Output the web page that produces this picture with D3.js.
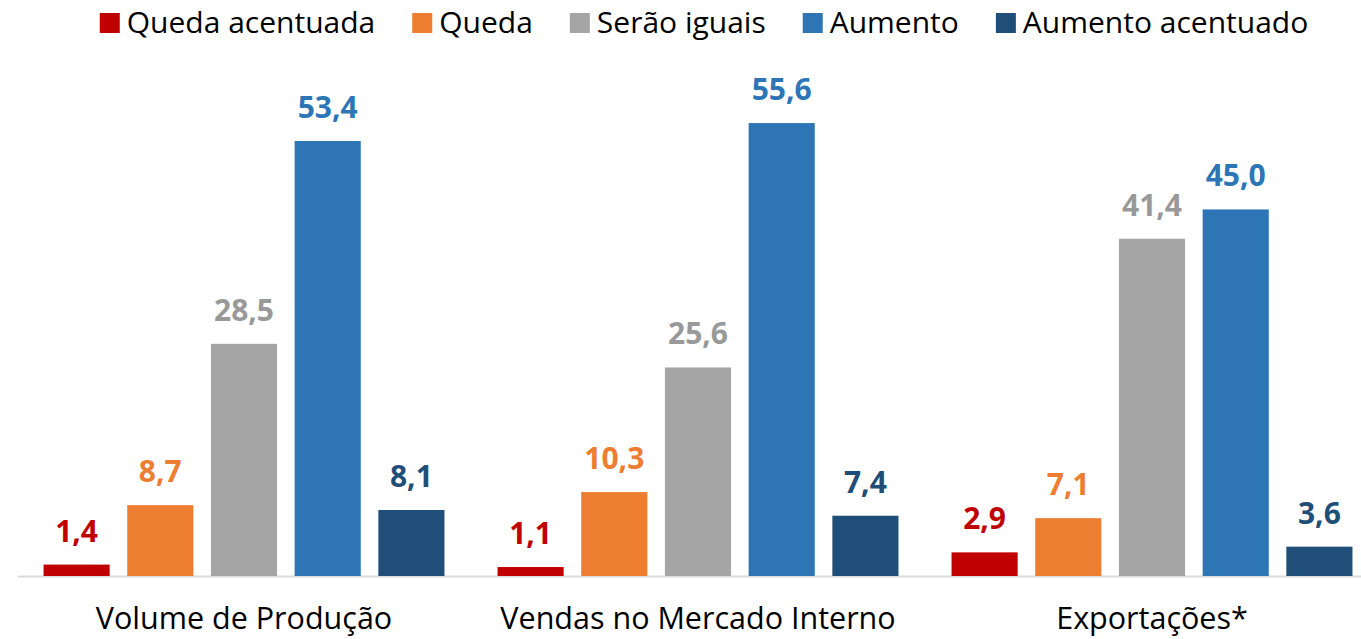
<!DOCTYPE html>
<html>
<head>
<meta charset="utf-8">
<script src="https://cdn.jsdelivr.net/npm/d3@7/dist/d3.min.js"></script>
<style>
  body { margin: 0; background: #fff; }
  svg { display: block; font-family: "Open Sans", "Noto Sans", sans-serif; }
</style>
</head>
<body>
<svg id="chart" width="1361" height="639"></svg>
<script>
var categories = ["Volume de Produção", "Vendas no Mercado Interno", "Exportações*"]
var series = ["Queda acentuada", "Queda", "Serão iguais", "Aumento", "Aumento acentuado"]
var colors = ["#c00000", "#ed7d31", "#a5a5a5", "#2e75b6", "#1f4e79"]
var label_colors = ["#c00000", "#ed7d31", "#999999", "#2e75b6", "#1f4e79"]
// values[category][series]
var values = [
	[1.4, 8.7, 28.5, 53.4, 8.1],
	[1.1, 10.3, 25.6, 55.6, 7.4],
	[2.9, 7.1, 41.4, 45.0, 3.6]
]

var svg = d3.select("#chart")
var baseline = 576

var x0 = d3.scaleBand().domain(categories).range([17, 1379])
var x1 = d3.scaleBand().domain(series).range([0, x0.bandwidth()])
	.paddingInner(0.21).paddingOuter(0.317)
var y = d3.scaleLinear().domain([0, 60]).range([baseline, baseline - 60 * 8.146])

var fmt = v => d3.format(".1f")(v).replace(".", ",")

// axis line
svg.append("line")
  .attr("x1", 18).attr("x2", 1361)
  .attr("y1", baseline + 0.5).attr("y2", baseline + 0.5)
  .style("stroke", "#d9d9d9").style("stroke-width", 2)

var g = svg.selectAll(".cat_g")
  .data(categories)
  .enter()
  .append("g")
  .attr("class", "cat_g")
  .attr("transform", d => "translate(" + x0(d) + ",0)")

g.each(function (cat, ci) {
	var rows = series.map((s, si) => ({s: s, si: si, v: values[ci][si]}))
	var sel = d3.select(this)
	sel.selectAll("rect")
	  .data(rows)
	  .enter()
	  .append("rect")
	  .attr("x", d => x1(d.s))
	  .attr("y", d => y(d.v))
	  .attr("width", x1.bandwidth())
	  .attr("height", d => baseline - y(d.v))
	  .style("fill", d => colors[d.si])
	sel.selectAll(".val")
	  .data(rows)
	  .enter()
	  .append("text")
	  .attr("class", "val")
	  .attr("x", d => x1(d.s) + x1.bandwidth() / 2)
	  .attr("y", d => y(d.v) - 23)
	  .attr("text-anchor", "middle")
	  .style("font-size", "30px")
	  .style("font-weight", "bold")
	  .style("fill", d => label_colors[d.si])
	  .text(d => fmt(d.v))
})

// category labels
svg.selectAll(".cat_label")
  .data(categories)
  .enter()
  .append("text")
  .attr("class", "cat_label")
  .attr("x", d => x0(d) + x0.bandwidth() / 2)
  .attr("y", 629)
  .attr("text-anchor", "middle")
  .style("font-size", "30.5px")
  .style("fill", "#000")
  .text(d => d)

// legend
var legend = svg.append("g")
var lx = 0
var items = legend.selectAll(".leg")
  .data(series)
  .enter()
  .append("g")
  .attr("class", "leg")
items.append("rect")
  .attr("width", 20).attr("height", 20)
  .attr("y", 13)
  .style("fill", (d, i) => colors[i])
items.append("text")
  .attr("x", 27)
  .attr("y", 33)
  .style("font-size", "30px")
  .style("fill", "#000")
  .text(d => d)
items.each(function () {
	var w = d3.select(this).select("text").node().getComputedTextLength()
	d3.select(this).attr("transform", "translate(" + lx + ",0)")
	lx = lx + 27 + w + 37
})
var total = lx - 37
legend.attr("transform", "translate(" + (704 - total / 2) + ",0)")
</script>
</body>
</html>
